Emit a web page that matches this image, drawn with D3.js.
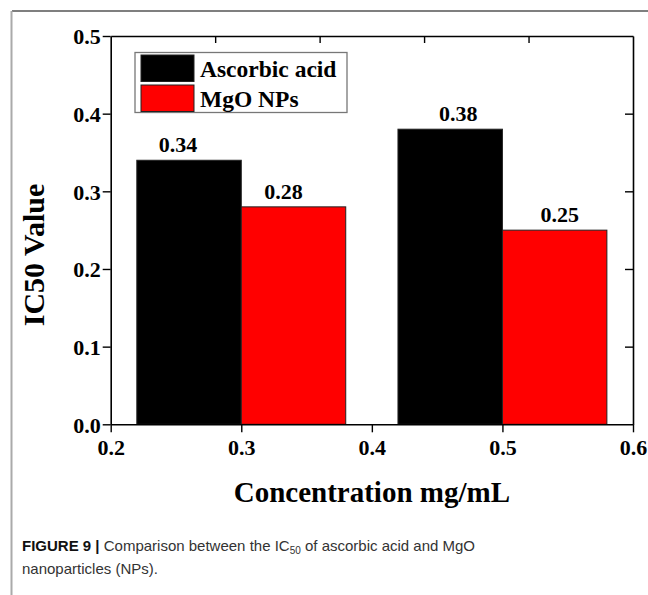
<!DOCTYPE html>
<html>
<head>
<meta charset="utf-8">
<script src="https://cdn.jsdelivr.net/npm/d3@7"></script>
<style>
  body { margin: 0; background: #fff; }
  svg { display: block; }
  .serif { font-family: "Liberation Serif", "Times New Roman", serif; font-weight: bold; fill: #000; }
  .caption { font-family: "Liberation Sans", Arial, sans-serif; fill: #333; }
</style>
</head>
<body>
<svg id="chart" width="648" height="595"></svg>
<script>
// --- données ---
const groups = [0.3, 0.5];              // concentration (mg/mL), limite entre les deux barres
const series = ["Ascorbic acid", "MgO NPs"];
const colors = ["#000000", "#ff0000"];
const ascorbic = [0.34, 0.38];
const mgo = [0.28, 0.25];
const xTicks = [0.2, 0.3, 0.4, 0.5, 0.6];
const yTicks = [0.0, 0.1, 0.2, 0.3, 0.4, 0.5];
const topTicks = [0.28, 0.36, 0.44, 0.52];
const barWidth = 0.08;
const labelShift = [-11, -10, 8, 5];    // décalage horizontal des étiquettes (px), comme dans l'original

const svg = d3.select('#chart');

// cadre gris de la figure
svg.append('line')
    .attr('x1', 12).attr('x2', 648).attr('y1', 11).attr('y2', 11)
    .attr('stroke', '#555').attr('stroke-width', 1.5);
svg.append('line')
    .attr('x1', 11.5).attr('x2', 11.5).attr('y1', 11).attr('y2', 595)
    .attr('stroke', '#aaa').attr('stroke-width', 2);

const plotLeft = 110.7, plotRight = 633, plotTop = 36, plotBottom = 424.3;

const x = d3.scaleLinear().domain([0.2, 0.6]).range([plotLeft, plotRight]);
const y = d3.scaleLinear().domain([0, 0.5]).range([plotBottom, plotTop]);

// barres : ascorbique à gauche, MgO à droite
const bars = [];
groups.forEach((g, i) => {
    bars.push({ x0: g - barWidth, value: ascorbic[i], color: colors[0] });
    bars.push({ x0: g, value: mgo[i], color: colors[1] });
});

svg.append('g').selectAll('rect')
    .data(bars)
    .enter()
    .append('rect')
    .attr('x', d => x(d.x0))
    .attr('y', d => y(d.value))
    .attr('width', d => x(d.x0 + barWidth) - x(d.x0))
    .attr('height', d => y(0) - y(d.value))
    .attr('fill', d => d.color)
    .attr('stroke', '#222')
    .attr('stroke-width', 1);

// étiquettes de valeurs
svg.append('g').selectAll('text')
    .data(bars)
    .enter()
    .append('text')
    .attr('class', 'serif')
    .attr('x', (d, i) => x(d.x0 + barWidth / 2) + labelShift[i])
    .attr('y', d => y(d.value) - 8)
    .attr('text-anchor', 'middle')
    .style('font-size', '22px')
    .text(d => d.value.toFixed(2));

// axes
const fmt = d3.format('.1f');
const xAxis = svg.append('g')
    .attr('transform', `translate(0,${plotBottom})`)
    .call(d3.axisBottom(x).tickValues(xTicks).tickFormat(fmt).tickSize(8).tickSizeOuter(0));
const yAxis = svg.append('g')
    .attr('transform', `translate(${plotLeft},0)`)
    .call(d3.axisLeft(y).tickValues(yTicks).tickFormat(fmt).tickSize(8).tickSizeOuter(0));
const topAxis = svg.append('g')
    .attr('transform', `translate(0,${plotTop})`)
    .call(d3.axisBottom(x).tickValues(topTicks).tickFormat('').tickSize(7).tickSizeOuter(0));
const rightAxis = svg.append('g')
    .attr('transform', `translate(${plotRight},0)`)
    .call(d3.axisLeft(y).tickValues(yTicks.slice(1, -1)).tickFormat('').tickSize(8).tickSizeOuter(0));

[xAxis, yAxis, topAxis, rightAxis].forEach(a => {
    a.select('.domain').attr('stroke', '#000').attr('stroke-width', 1.6);
    a.selectAll('.tick line').attr('stroke', '#000').attr('stroke-width', 1.4);
    a.selectAll('.tick text')
        .attr('class', 'serif')
        .style('font-size', '22px');
});
xAxis.selectAll('.tick text').attr('dy', null).attr('y', 31);
yAxis.selectAll('.tick text').attr('dy', '0.35em').attr('x', -10);

// titres
svg.append('text')
    .attr('class', 'serif')
    .attr('x', (plotLeft + plotRight) / 2)
    .attr('y', 502)
    .attr('text-anchor', 'middle')
    .style('font-size', '29px')
    .text('Concentration mg/mL');

svg.append('text')
    .attr('class', 'serif')
    .attr('transform', 'translate(44,255) rotate(-90)')
    .attr('text-anchor', 'middle')
    .style('font-size', '30px')
    .text('IC50 Value');

// légende
const legend = svg.append('g');
legend.append('rect')
    .attr('x', 135).attr('y', 52.5).attr('width', 212).attr('height', 60)
    .attr('fill', '#fff').attr('stroke', '#777').attr('stroke-width', 1.3);
series.forEach((s, i) => {
    legend.append('rect')
        .attr('x', 141).attr('y', 55 + i * 30).attr('width', 53).attr('height', 26.5)
        .attr('fill', colors[i]).attr('stroke', '#222').attr('stroke-width', 1);
    legend.append('text')
        .attr('class', 'serif')
        .attr('x', 200).attr('y', 76.5 + i * 30)
        .style('font-size', '23.5px')
        .text(s);
});

// légende de la figure
const cap1 = svg.append('text').attr('class', 'caption')
    .attr('x', 22).attr('y', 551).style('font-size', '15px');
cap1.append('tspan').style('font-weight', 'bold').attr('fill', '#111').text('FIGURE 9 | ');
cap1.append('tspan').text('Comparison between the IC');
cap1.append('tspan').attr('dy', 3).style('font-size', '10px').text('50');
cap1.append('tspan').attr('dy', -3).text(' of ascorbic acid and MgO');

svg.append('text').attr('class', 'caption')
    .attr('x', 22).attr('y', 574).style('font-size', '15px')
    .text('nanoparticles (NPs).');
</script>
</body>
</html>
